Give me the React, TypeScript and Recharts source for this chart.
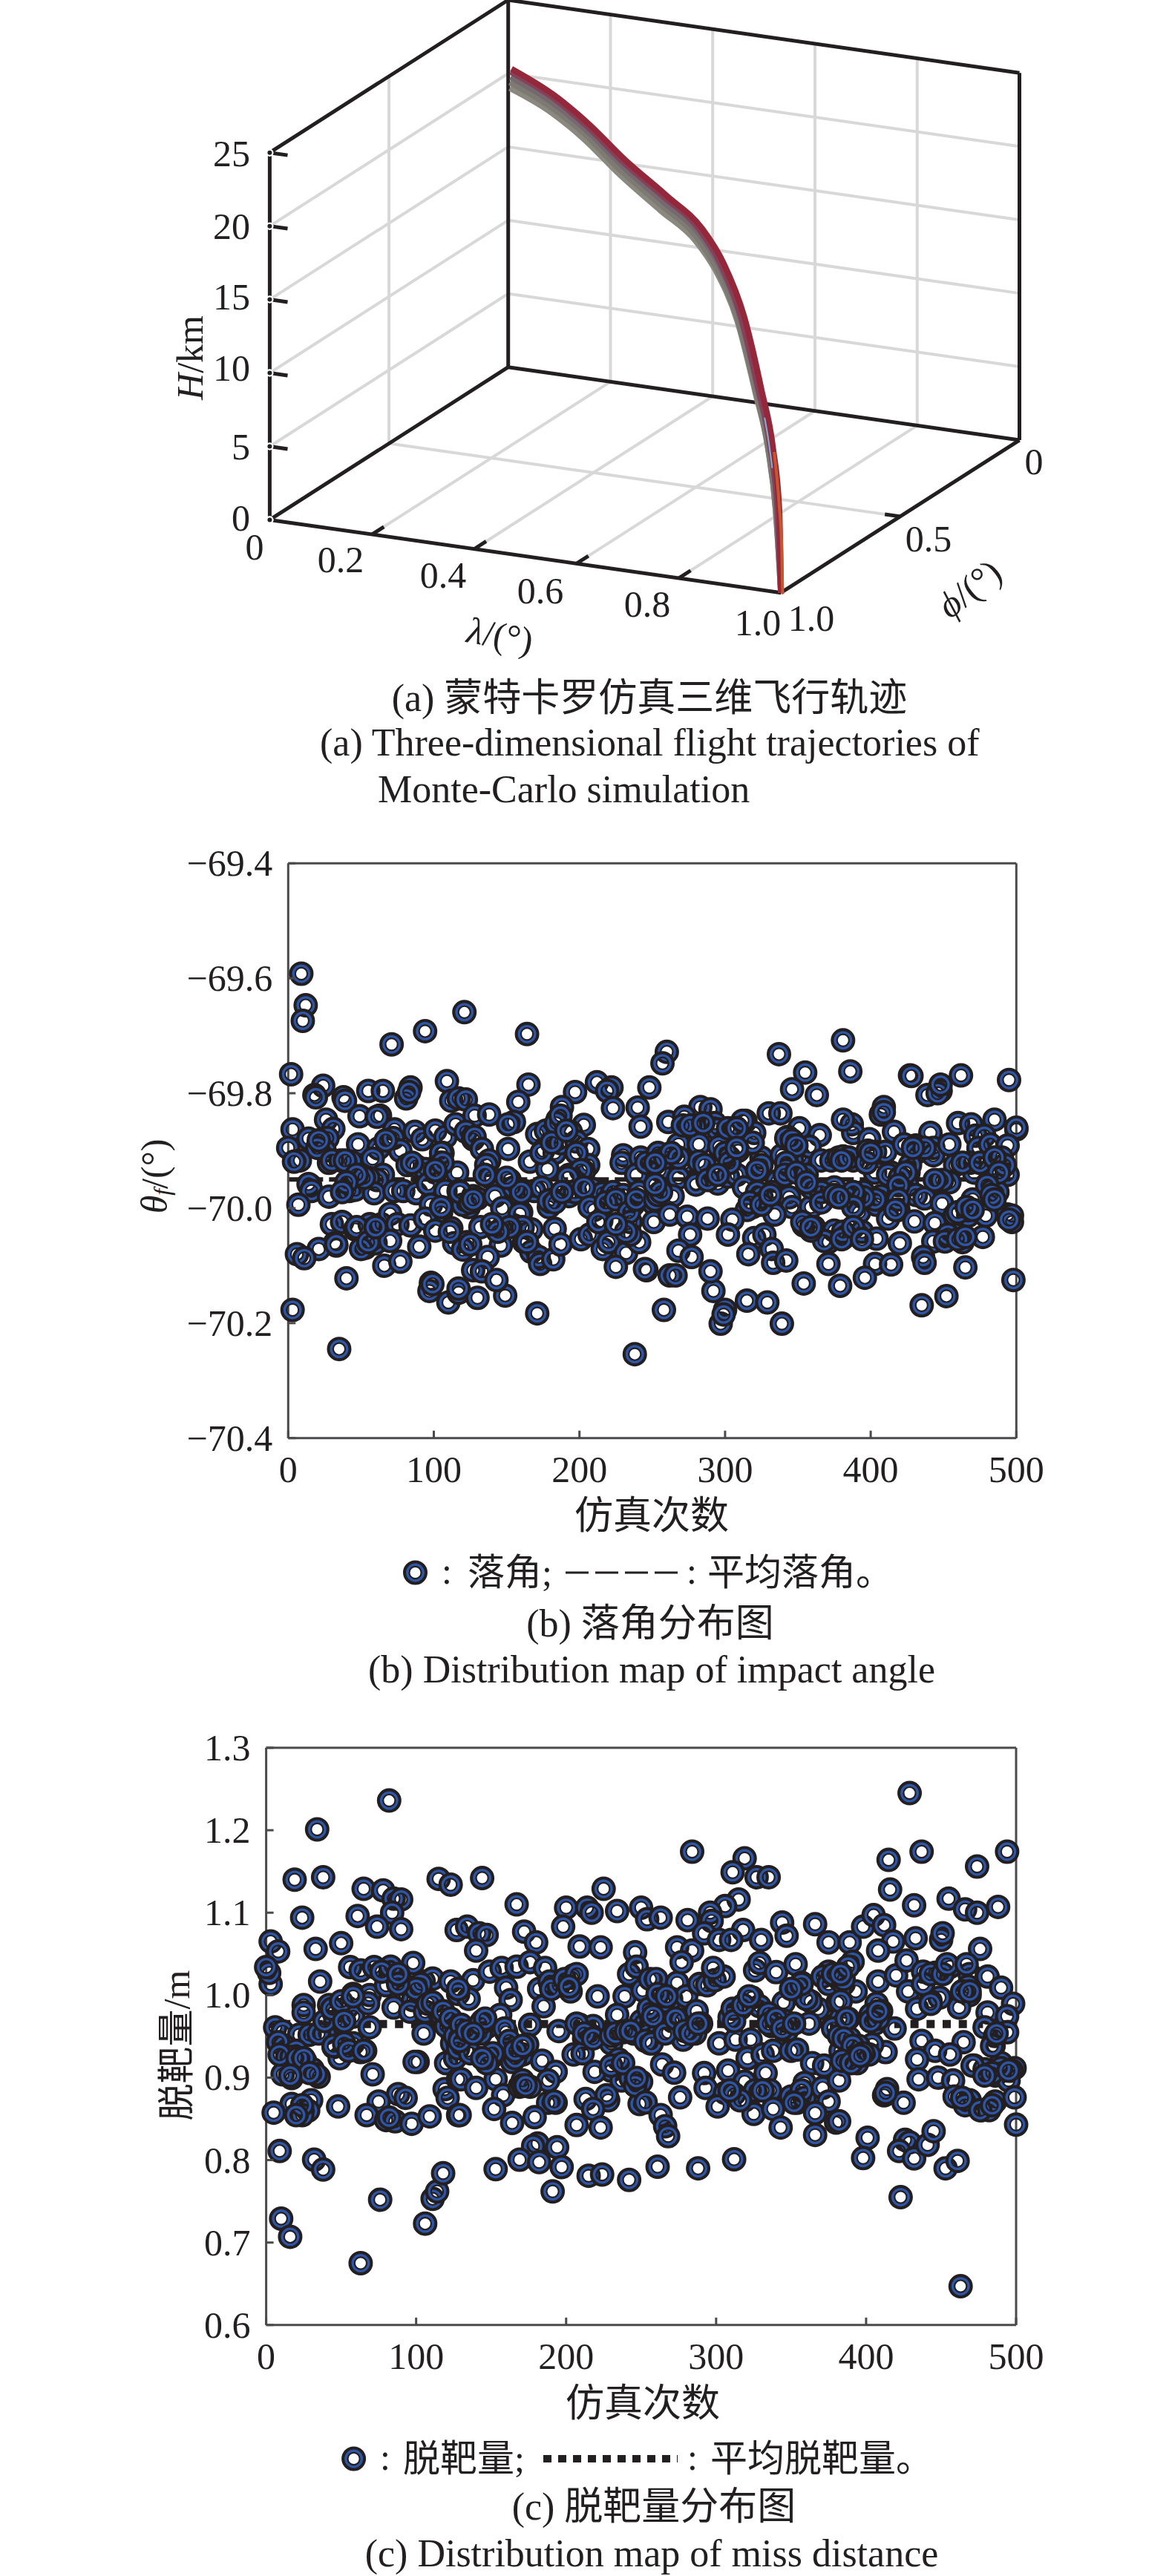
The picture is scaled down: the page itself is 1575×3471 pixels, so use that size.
import React from "react";
import { ComposedChart, Line, Scatter, XAxis, YAxis } from "recharts";

const INK = "#231f20";
const AXIS = "#4a4a4c";
const BLUE = "#2f56a6";
const GRID = "#d8d8d8";
const FONT = '"Liberation Serif", "Noto Sans CJK SC", serif';

// panel (a): axis ticks of the 3D box
const lambdaTicks = [0.2, 0.4, 0.6, 0.8];
const phiTicks = [0.5];
const heightTicks = [5, 10, 15, 20];
const heightAxisTicks = [0, 5, 10, 15, 20, 25];
const lambdaAxisTicks = [0.2, 0.4, 0.6, 0.8];

// panel (a): trajectory bundle
const trackMid = [0.009, 0.157, 0.287, 0.418, 0.57, 0.7, 0.776, 0.852, 0.917, 0.961, 0.987, 1];
const trackRight = [0.012, 0.165, 0.295, 0.428, 0.582, 0.712, 0.79, 0.866, 0.929, 0.971, 0.994, 1];
const trackLeft = [0.006, 0.148, 0.278, 0.408, 0.558, 0.688, 0.762, 0.84, 0.907, 0.953, 0.981, 1];
const heightTop = [20.5, 21.1, 21.1, 20.7, 20.6, 20.35, 19.2, 16.7, 12.7, 9.4, 5.5, 0];
const heightUpper = [20.25, 20.85, 20.85, 20.45, 20.35, 20.15, 19.05, 16.6, 12.6, 9.35, 5.45, 0];
const heightMid = [19.9, 20.5, 20.55, 20.15, 20.0, 19.85, 18.8, 16.4, 12.45, 9.25, 5.4, 0];
const heightLower = [19.5, 20.1, 20.2, 19.75, 19.65, 19.5, 18.5, 16.25, 12.35, 9.15, 5.35, 0];
const heightBottom = [19.1, 19.75, 19.8, 19.4, 19.25, 19.15, 18.25, 16.05, 12.15, 9.05, 5.3, 0];
const orangeLambda = [0.975, 0.993, 1.003, 1.006];
const orangeHeight = [9.2, 6.0, 3.0, 0];
const blueLambda = [0.94, 0.955, 0.968];
const blueHeight = [11.0, 9.6, 8.0];

// panel (b): run number, impact angle
const impactMean = -69.95;
const impactTicksY = [-70.4, -70.2, -70.0, -69.8, -69.6, -69.4];
const runTicks = [0, 100, 200, 300, 400, 500];
const impactPoints = [
  [9, -69.592], [12, -69.647], [10, -69.674], [71, -69.715], [94, -69.692], [121, -69.659], [164, -69.697], [260, -69.728], [257, -69.748], [337, -69.732], [381, -69.708],
  [3, -70.177], [35, -70.245], [98, -70.13], [97, -70.144], [110, -70.164], [117, -70.147], [130, -70.156], [149, -70.152], [171, -70.183], [238, -70.254], [258, -70.177], [315, -70.161], [329, -70.164], [339, -70.201], [297, -70.201], [300, -70.177], [299, -70.185], [292, -70.144], [354, -70.131], [379, -70.135], [435, -70.169], [452, -70.153], [498, -70.125],
  [2, -69.767], [24, -69.787], [18, -69.803], [19, -69.807], [38, -69.807], [39, -69.813], [55, -69.796], [65, -69.796], [84, -69.79], [81, -69.809], [83, -69.798], [109, -69.779], [49, -69.84], [63, -69.839], [61, -69.841], [26, -69.846], [31, -69.862], [3, -69.863], [14, -69.879], [24, -69.88], [27, -69.878], [0, -69.895], [25, -69.9], [48, -69.889], [62, -69.896], [8, -69.917], [4, -69.919], [28, -69.921], [36, -69.917], [43, -69.919], [58, -69.914], [73, -69.863], [72, -69.878], [87, -69.867], [92, -69.88], [101, -69.865], [108, -69.876], [115, -69.854], [112, -69.813], [117, -69.809], [122, -69.811], [128, -69.839], [122, -69.867], [127, -69.88], [106, -69.904], [104, -69.921], [77, -69.9], [82, -69.925], [88, -69.927], [94, -69.932], [101, -69.938], [65, -69.942], [61, -69.951], [55, -69.947], [50, -69.942], [116, -69.938], [15, -69.96], [14, -69.958], [16, -69.97], [7, -69.994], [28, -69.98], [42, -69.97], [46, -69.968], [59, -69.974], [73, -69.97], [79, -69.97], [88, -69.974], [96, -69.958], [108, -69.97], [117, -69.97], [127, -69.979], [98, -69.994], [105, -70.007], [124, -69.998], [127, -69.985],
  [30, -70.028], [37, -70.024], [46, -70.037], [56, -70.028], [64, -70.028], [70, -70.01], [75, -70.028], [84, -70.03], [94, -70.018], [101, -70.039], [112, -70.035], [114, -70.061], [123, -70.059], [120, -70.072], [32, -70.061], [33, -70.065], [21, -70.071], [6, -70.08], [11, -70.087], [53, -70.069], [53, -70.065], [60, -70.061], [70, -70.057], [90, -70.067], [66, -70.1], [77, -70.093], [40, -70.122], [99, -70.132], [117, -70.14], [127, -70.108],
  [20, -69.895], [21, -69.882], [30, -69.917], [39, -69.917], [52, -69.947], [47, -69.942], [40, -69.955], [37, -69.972], [67, -69.882], [85, -69.921], [105, -69.904], [106, -69.921], [101, -69.934], [111, -70.041], [120, -69.994], [105, -69.998], [118, -69.972], [125, -69.99], [47, -70.033], [50, -70.071], [55, -70.059], [60, -70.033], [33, -70.063],
  [165, -69.785], [158, -69.815], [138, -69.837], [155, -69.85], [151, -69.854], [171, -69.871], [197, -69.798], [188, -69.824], [185, -69.846], [212, -69.781], [222, -69.79], [219, -69.796], [223, -69.826], [248, -69.79], [240, -69.825], [242, -69.858], [203, -69.855], [151, -69.897], [128, -69.876], [133, -69.897], [138, -69.917], [136, -69.925], [166, -69.919], [177, -69.865], [184, -69.852], [175, -69.9], [183, -69.904], [187, -69.887], [178, -69.932], [194, -69.867], [198, -69.884], [206, -69.897], [206, -69.925], [203, -69.936], [193, -69.942], [230, -69.908], [229, -69.921], [242, -69.912], [247, -69.921], [254, -69.908], [255, -69.934], [239, -69.942], [152, -69.951], [139, -69.947], [135, -69.942], [130, -69.983], [127, -69.985], [142, -69.979], [147, -70.0], [159, -69.977], [162, -69.97], [169, -69.97], [174, -69.964], [182, -69.985], [179, -69.998], [193, -69.979], [197, -69.972], [208, -69.966], [216, -69.974], [223, -69.972], [230, -69.977], [237, -69.994], [241, -69.972], [255, -69.974], [251, -69.992], [210, -70.003], [215, -70.022], [235, -70.024], [251, -70.024], [132, -70.033], [146, -70.037], [160, -70.007], [155, -70.03], [167, -70.037], [183, -70.036], [146, -70.065], [125, -70.063], [162, -70.059], [167, -70.076], [172, -70.085], [173, -70.097], [182, -70.089], [187, -70.063], [201, -70.054], [207, -70.046], [216, -70.071], [220, -70.059], [232, -70.078], [241, -70.059], [235, -70.046], [225, -70.102], [246, -70.108], [137, -70.085], [133, -70.11], [143, -70.125],
  [174, -69.904], [181, -69.886], [187, -69.839], [191, -69.865], [198, -69.904], [201, -69.934], [192, -69.947], [179, -69.987], [183, -69.99], [188, -69.972], [203, -69.964], [207, -69.998], [213, -70.024], [218, -69.99], [225, -69.985], [234, -70.007], [239, -69.985], [246, -69.921], [252, -69.921], [252, -69.985], [232, -70.041], [225, -70.028], [159, -70.01], [161, -70.033], [152, -70.033], [144, -70.041], [140, -70.028], [164, -70.059], [155, -69.964], [160, -69.972], [150, -69.947],
  [355, -69.764], [346, -69.793], [363, -69.803], [386, -69.762], [261, -69.85], [283, -69.824], [290, -69.828], [272, -69.841], [293, -69.852], [279, -69.859], [295, -69.863], [314, -69.848], [307, -69.863], [320, -69.869], [330, -69.835], [338, -69.835], [351, -69.861], [365, -69.873], [343, -69.876], [268, -69.889], [282, -69.889], [254, -69.904], [259, -69.912], [272, -69.921], [282, -69.919], [286, -69.925], [296, -69.893], [303, -69.912], [309, -69.9], [325, -69.912], [325, -69.925], [339, -69.908], [346, -69.917], [351, -69.912], [358, -69.893], [366, -69.917], [373, -69.917], [378, -69.912], [382, -69.912], [268, -69.947], [280, -69.957], [295, -69.957], [302, -69.945], [308, -69.942], [313, -69.964], [336, -69.953], [342, -69.934], [356, -69.942], [375, -69.964], [363, -69.968], [383, -69.981], [254, -69.977], [264, -69.979], [319, -69.998], [325, -69.981], [332, -69.972], [344, -69.981], [346, -69.998], [359, -69.998], [354, -70.03], [361, -70.033], [334, -70.011], [315, -70.003], [262, -70.011], [274, -70.015], [288, -70.018], [305, -70.02], [302, -70.046], [276, -70.046], [320, -70.052], [327, -70.046], [268, -70.074], [277, -70.085], [316, -70.08], [332, -70.071], [333, -70.095], [342, -70.091], [371, -70.059], [375, -70.039], [368, -70.057], [359, -70.039], [371, -70.097], [381, -70.052], [262, -70.117], [266, -70.117], [290, -70.11], [245, -70.106],
  [268, -69.912], [263, -69.904], [271, -69.856], [276, -69.856], [285, -69.852], [302, -69.861], [312, -69.848], [308, -69.861], [319, -69.886], [300, -69.904], [303, -69.921], [308, -69.895], [322, -69.934], [322, -69.972], [317, -69.99], [325, -69.994], [331, -69.977], [342, -69.878], [346, -69.882], [349, -69.891], [342, -69.921], [341, -69.942], [349, -69.938], [359, -69.964], [366, -69.972], [356, -69.955], [353, -70.024], [359, -70.033], [366, -69.99], [375, -69.977], [380, -69.981], [280, -69.959], [288, -69.951], [295, -69.942], [256, -69.972], [252, -69.921], [252, -69.959],
  [427, -69.769], [428, -69.77], [462, -69.769], [495, -69.777], [439, -69.803], [448, -69.796], [446, -69.8], [448, -69.785], [409, -69.824], [407, -69.837], [409, -69.833], [416, -69.867], [441, -69.869], [460, -69.852], [469, -69.854], [485, -69.846], [500, -69.863], [500, -69.86], [387, -69.854], [388, -69.869], [381, -69.846], [399, -69.88], [403, -69.902], [410, -69.902], [423, -69.889], [431, -69.891], [431, -69.904], [443, -69.895], [443, -69.908], [454, -69.889], [472, -69.874], [478, -69.874], [474, -69.895], [482, -69.889], [494, -69.891], [490, -69.912], [381, -69.91], [388, -69.917], [403, -69.938], [414, -69.938], [426, -69.938], [427, -69.925], [458, -69.925], [468, -69.921], [471, -69.938], [482, -69.934], [494, -69.942], [492, -69.925], [448, -69.955], [454, -69.955], [425, -69.96], [395, -69.972], [407, -69.979], [383, -69.981], [419, -69.977], [431, -69.977], [437, -69.983], [449, -69.992], [483, -69.97], [486, -69.975], [487, -69.972], [470, -69.985], [392, -70.007], [404, -69.994], [419, -70.003], [412, -70.018], [430, -70.023], [444, -70.026], [458, -70.011], [467, -70.013], [479, -70.013], [494, -70.011], [497, -70.013], [497, -70.024], [394, -70.041], [383, -70.048], [404, -70.053], [420, -70.061], [443, -70.058], [454, -70.052], [463, -70.059], [458, -70.046], [477, -70.05], [436, -70.085], [437, -70.095], [403, -70.097], [414, -70.098], [396, -70.121], [465, -70.103],
  [385, -69.912], [380, -69.917], [398, -69.9], [397, -69.921], [400, -69.904], [412, -69.942], [420, -69.947], [424, -69.938], [419, -69.96], [419, -69.985], [417, -70.003], [403, -69.985], [395, -69.981], [388, -69.972], [388, -69.998], [378, -69.981], [381, -70.041], [380, -70.054], [388, -70.033], [394, -70.054], [449, -69.951], [444, -69.951], [437, -69.895], [429, -69.895], [463, -69.921], [475, -69.921], [485, -69.912], [488, -69.938], [480, -69.96], [483, -69.977], [485, -69.985], [460, -70.007], [466, -69.998], [453, -70.046], [451, -70.058], [460, -70.054], [465, -70.05], [470, -70.003], [495, -70.02],
];

// panel (c): run number, miss distance
const missMean = 0.965;
const missTicksY = [0.6, 0.7, 0.8, 0.9, 1.0, 1.1, 1.2, 1.3];
const missPoints = [
  [34, 1.201], [82, 1.236], [19, 1.14], [38, 1.143], [24, 1.094], [65, 1.129], [61, 1.096], [78, 1.127], [85, 1.117], [90, 1.116], [84, 1.1], [74, 1.083], [90, 1.08], [33, 1.056], [3, 1.065], [8, 1.053], [50, 1.063], [115, 1.141], [123, 1.134], [144, 1.142], [167, 1.11], [200, 1.106], [198, 1.083], [172, 1.077], [180, 1.064], [127, 1.079], [134, 1.083], [142, 1.075], [147, 1.073], [140, 1.054], [209, 1.059], [225, 1.129], [214, 1.106], [217, 1.1], [234, 1.102], [223, 1.058], [250, 1.106], [254, 1.092], [263, 1.094], [246, 1.052], [284, 1.174], [281, 1.091], [274, 1.058], [284, 1.054], [319, 1.166], [311, 1.149], [327, 1.143], [335, 1.143], [315, 1.116], [306, 1.108], [296, 1.1], [297, 1.09], [292, 1.075], [318, 1.079], [302, 1.067], [310, 1.067], [330, 1.067], [344, 1.088], [347, 1.072], [366, 1.086], [375, 1.064], [389, 1.064], [398, 1.083], [405, 1.097], [412, 1.085], [415, 1.164], [416, 1.128], [429, 1.245], [437, 1.174], [432, 1.109], [433, 1.069], [418, 1.065], [455, 1.117], [466, 1.104], [474, 1.1], [474, 1.156], [488, 1.107], [494, 1.174], [450, 1.067], [451, 1.075], [476, 1.056], [408, 1.054],
  [10, 0.729], [16, 0.707], [63, 0.675], [76, 0.752], [106, 0.723], [111, 0.753], [114, 0.762], [463, 0.647], [423, 0.755], [191, 0.762], [242, 0.776],
  [3, 1.0135], [2, 1.027], [0, 1.034], [36, 1.0165], [25, 0.988], [25, 0.979], [56, 1.034], [63, 1.03], [72, 1.034], [83, 1.028], [98, 1.039], [42, 0.988], [45, 0.979], [46, 0.967], [54, 0.985], [58, 1.0015], [58, 0.974], [69, 1.0], [68, 0.99], [80, 1.012], [91, 1.014], [93, 1.0], [85, 0.985], [105, 1.0165], [111, 1.02], [123, 1.0165], [128, 1.0015], [98, 0.994], [96, 0.98], [106, 0.98], [115, 0.98], [117, 0.976], [69, 0.961], [6, 0.961], [11, 0.956], [22, 0.952], [29, 0.952], [39, 0.9535], [12, 0.9385], [8, 0.943], [20, 0.9325], [14, 0.925], [26, 0.92], [31, 0.91], [35, 0.901], [33, 0.904], [11, 0.904], [17, 0.8995], [45, 0.937], [49, 0.9235], [58, 0.9415], [63, 0.931], [66, 0.9325], [71, 0.904], [105, 0.9535], [101, 0.919], [99, 0.919], [120, 0.9175], [126, 0.964], [124, 0.9535], [126, 0.9235], [120, 0.9625], [119, 0.886], [121, 0.8755], [128, 0.898], [88, 0.88], [93, 0.8755], [75, 0.871], [17, 0.868], [30, 0.8725], [28, 0.86], [24, 0.8545], [5, 0.8575], [48, 0.865], [67, 0.8545], [80, 0.8485], [86, 0.847], [97, 0.844], [109, 0.853], [128, 0.8545], [9, 0.811], [32, 0.8005], [38, 0.7885], [118, 0.784],
  [17, 0.925], [9, 0.928], [21, 0.9235], [25, 0.9235], [29, 0.9055], [16, 0.9025], [35, 0.9535], [39, 0.9685], [44, 0.9835], [50, 0.9925], [52, 0.9685], [58, 0.9985], [45, 0.9385], [52, 0.9415], [55, 0.9325], [65, 0.9325], [103, 1.0135], [100, 1.0075], [108, 0.9895], [111, 0.991], [118, 0.9805], [123, 0.9715], [124, 0.9415], [126, 0.9505], [24, 0.8665], [20, 0.8545], [82, 0.8515], [83, 1.0345], [77, 1.0285], [88, 1.0135], [88, 1.0255],
  [138, 1.018], [135, 0.9955], [128, 1.0075], [149, 1.0285], [157, 1.033], [167, 1.0345], [176, 1.04], [186, 1.033], [160, 1.009], [163, 0.994], [182, 1.0075], [189, 1.0165], [195, 1.012], [203, 1.0045], [204, 1.021], [205, 1.024], [185, 0.9865], [221, 0.9985], [242, 1.0255], [247, 1.0345], [239, 0.9985], [251, 1.006], [256, 1.0195], [234, 0.976], [156, 0.976], [144, 0.9685], [147, 0.961], [143, 0.9535], [130, 0.964], [160, 0.955], [176, 0.964], [195, 0.9565], [209, 0.964], [218, 0.9625], [212, 0.9475], [217, 0.9505], [230, 0.9415], [238, 0.955], [245, 0.9535], [253, 0.9655], [256, 0.9415], [134, 0.9325], [128, 0.9355], [136, 0.9295], [149, 0.922], [148, 0.925], [164, 0.919], [171, 0.928], [174, 0.94], [166, 0.9235], [184, 0.9205], [193, 0.907], [188, 0.8965], [205, 0.928], [211, 0.9295], [235, 0.922], [230, 0.9085], [219, 0.907], [237, 0.8965], [250, 0.895], [243, 0.8995], [130, 0.898], [140, 0.8875], [153, 0.898], [158, 0.8785], [169, 0.889], [176, 0.889], [188, 0.8695], [193, 0.8695], [213, 0.874], [228, 0.8725], [227, 0.8785], [249, 0.868], [218, 0.862], [152, 0.862], [129, 0.8545], [164, 0.845], [179, 0.852], [207, 0.8425], [223, 0.8395], [181, 0.82], [178, 0.817], [194, 0.8155], [169, 0.8005], [182, 0.7975], [197, 0.7915], [153, 0.789], [215, 0.781], [224, 0.7825], [261, 0.792],
  [129, 0.9445], [134, 0.9565], [143, 0.9655], [146, 0.9715], [138, 0.9535], [159, 0.9595], [162, 0.9445], [151, 0.9295], [147, 0.9175], [144, 0.9235], [166, 0.9325], [171, 0.9385], [190, 1.0075], [199, 1.0195], [207, 1.0255], [202, 1.0105], [207, 0.9655], [212, 0.9535], [218, 0.9475], [230, 0.9505], [233, 0.9535], [240, 0.9565], [250, 0.9685], [243, 0.9565], [253, 0.9445], [230, 0.9145], [238, 0.9175], [246, 0.8905], [247, 0.8995], [171, 0.8965], [192, 0.871], [171, 0.8905], [173, 0.8905],
  [260, 1.0195], [274, 1.015], [270, 0.9955], [280, 0.9985], [265, 0.9925], [289, 1.0135], [294, 1.012], [299, 1.018], [305, 1.0225], [298, 1.033], [277, 1.04], [326, 1.03], [329, 1.039], [340, 1.028], [353, 1.0375], [357, 1.015], [354, 1.009], [345, 0.991], [324, 0.997], [329, 0.9865], [316, 0.9835], [335, 0.9775], [368, 0.9835], [363, 0.9925], [381, 0.991], [375, 1.0285], [371, 1.0225], [382, 1.0195], [256, 0.9775], [271, 0.9685], [277, 0.97], [287, 0.9805], [290, 0.9655], [309, 0.973], [346, 0.9685], [337, 0.9625], [362, 0.9655], [347, 0.9565], [378, 0.9625], [385, 0.9655], [268, 0.955], [278, 0.946], [286, 0.9535], [257, 0.9415], [302, 0.9415], [313, 0.946], [323, 0.946], [321, 0.9235], [331, 0.928], [338, 0.9325], [350, 0.9325], [354, 0.934], [364, 0.9175], [372, 0.9145], [383, 0.9325], [385, 0.916], [264, 0.916], [272, 0.906], [292, 0.9055], [308, 0.9085], [333, 0.9055], [293, 0.8875], [319, 0.895], [306, 0.8815], [301, 0.865], [312, 0.88], [319, 0.8725], [326, 0.883], [336, 0.8845], [325, 0.856], [338, 0.862], [350, 0.877], [354, 0.8695], [359, 0.8935], [359, 0.8755], [371, 0.8875], [375, 0.871], [366, 0.857], [380, 0.8455], [343, 0.8395], [366, 0.8305], [276, 0.876], [253, 0.87], [263, 0.8545], [266, 0.841], [268, 0.829], [288, 0.79], [312, 0.801],
  [255, 0.9835], [258, 0.9745], [266, 0.9535], [273, 0.9715], [279, 0.9565], [283, 0.9535], [288, 0.9655], [261, 1.0015], [267, 0.9985], [311, 0.9835], [312, 0.9685], [318, 0.988], [322, 0.9985], [335, 0.9655], [340, 0.9715], [344, 0.9595], [352, 0.9655], [360, 0.9955], [357, 1.0135], [350, 1.0075], [375, 1.0135], [378, 1.0255], [385, 1.0135], [383, 0.9715], [378, 0.9595], [382, 0.9505], [326, 0.8845], [331, 0.8845], [357, 0.8845], [352, 0.8695], [316, 0.8725], [309, 0.8845],
  [391, 1.0405], [393, 1.0045], [385, 1.0195], [383, 0.9925], [408, 1.0165], [420, 1.024], [428, 1.0045], [427, 1.042], [438, 1.0285], [446, 1.027], [456, 1.0345], [469, 1.0255], [481, 1.0225], [468, 1.0105], [469, 1.0], [490, 1.009], [462, 0.985], [449, 0.997], [443, 0.9925], [434, 0.9835], [481, 0.979], [498, 0.9895], [494, 0.9745], [407, 0.9895], [410, 0.9805], [403, 0.976], [388, 0.9715], [406, 0.9655], [419, 0.9595], [479, 0.961], [494, 0.955], [486, 0.9505], [437, 0.9445], [465, 0.943], [485, 0.9385], [446, 0.9325], [456, 0.928], [434, 0.922], [413, 0.931], [404, 0.94], [389, 0.9475], [395, 0.9385], [387, 0.9175], [394, 0.9175], [402, 0.928], [472, 0.9145], [479, 0.91], [486, 0.9025], [490, 0.9175], [499, 0.9115], [497, 0.9085], [495, 0.8965], [435, 0.898], [448, 0.9], [458, 0.8965], [414, 0.886], [412, 0.8785], [425, 0.8695], [382, 0.8965], [459, 0.877], [469, 0.8725], [466, 0.8665], [477, 0.8605], [482, 0.8605], [486, 0.871], [499, 0.876], [500, 0.843], [401, 0.827], [398, 0.8025], [382, 0.847], [426, 0.8245], [429, 0.8215], [422, 0.811], [432, 0.802], [441, 0.8185], [445, 0.835], [453, 0.79], [461, 0.799],
  [388, 1.0345], [383, 1.0255], [438, 1.0135], [443, 1.0255], [451, 1.0255], [454, 1.0375], [467, 1.0375], [464, 1.0045], [469, 1.0045], [443, 0.9895], [387, 0.9715], [385, 0.9475], [391, 0.9385], [384, 0.9205], [390, 0.9175], [398, 0.9295], [396, 0.9265], [484, 0.9385], [490, 0.9115], [487, 0.9535], [471, 0.9145], [484, 0.9055], [479, 0.9025], [495, 0.9085], [476, 0.8605], [484, 0.8665], [464, 0.8755], [413, 0.8815], [408, 0.9715], [403, 0.9685], [408, 0.9805],
];

const toXY = (pts: number[][]) => pts.map(([x, y]) => ({ x, y }));

// (lambda, phi, H) to position in the panel (a) plot
function project(lambda: number, phi: number, h: number) {
  return {
    x: 684.7 + lambda * 688.8 - phi * 321.3,
    y: 494.7 + lambda * 98.3 + phi * 205.7 - h * 19.79,
  };
}

function seg(a: number[], b: number[]) {
  return [project(a[0], a[1], a[2]), project(b[0], b[1], b[2])];
}

const gridSegments = [
  ...lambdaTicks.map((l) => seg([l, 0, 0], [l, 0, 25])),
  ...lambdaTicks.map((l) => seg([l, 0, 0], [l, 1, 0])),
  ...phiTicks.map((p) => seg([0, p, 0], [0, p, 25])),
  ...phiTicks.map((p) => seg([0, p, 0], [1, p, 0])),
  ...heightTicks.map((h) => seg([0, 0, h], [1, 0, h])),
  ...heightTicks.map((h) => seg([0, 0, h], [0, 1, h])),
];

const frameSegments = [
  seg([0, 1, 0], [0, 1, 25]),
  seg([0, 1, 25], [0, 0, 25]),
  seg([0, 0, 25], [1, 0, 25]),
  seg([1, 0, 25], [1, 0, 0]),
  seg([0, 0, 0], [0, 0, 25]),
  seg([0, 1, 0], [1, 1, 0]),
  seg([1, 1, 0], [1, 0, 0]),
  seg([1, 0, 0], [0, 0, 0]),
  seg([0, 0, 0], [0, 1, 0]),
  ...heightAxisTicks.slice(1).map((h) => seg([0, 1, h], [0.035, 1, h])),
  ...lambdaAxisTicks.map((l) => seg([l, 1, 0], [l, 0.95, 0])),
  ...phiTicks.map((p) => seg([1, p, 0], [0.97, p, 0])),
];

const track = (ls: number[], hs: number[]) => ls.map((l, i) => project(l, l, hs[i]));

const trackSeries = [
  { pts: track(trackLeft, heightBottom), color: "#8b8880" },
  { pts: track(trackLeft, heightLower), color: "#7d7a74" },
  { pts: track(trackMid, heightMid), color: "#76686f" },
  { pts: track(trackMid, heightUpper), color: "#85405a" },
  { pts: track(trackRight, heightTop), color: "#94283a" },
];

function Ring({ cx, cy }: any) {
  return (
    <g fill="none">
      <circle cx={cx} cy={cy} r={11.75} stroke={INK} strokeWidth={9.5} />
      <circle cx={cx} cy={cy} r={10.8} stroke={BLUE} strokeWidth={3.2} />
    </g>
  );
}

function Txt({ x, y, size = 50, anchor = "middle", rotate = 0, children }: any) {
  return (
    <text
      x={x}
      y={y}
      fontSize={size}
      fontFamily={FONT}
      fill={INK}
      textAnchor={anchor}
      dominantBaseline="central"
      transform={rotate ? `rotate(${rotate} ${x} ${y})` : undefined}
    >
      {children}
    </text>
  );
}

const fmtX = (v: number) => String(v);
const fmtY = (v: number) => v.toFixed(1).replace("-", "\u2212");

function LeftTick({ x, y, payload }: any) {
  return (
    <g>
      <line x1={x} x2={x + 10} y1={y} y2={y} stroke={AXIS} strokeWidth={3} />
      <text x={x - 21} y={y} fontSize={50} fontFamily={FONT} fill={INK} textAnchor="end" dominantBaseline="central">
        {fmtY(payload.value)}
      </text>
    </g>
  );
}

function BottomTick({ x, y, payload }: any) {
  return (
    <g>
      <line x1={x} x2={x} y1={y} y2={y - 10} stroke={AXIS} strokeWidth={3} />
      <text x={x} y={y + 42} fontSize={50} fontFamily={FONT} fill={INK} textAnchor="middle" dominantBaseline="central">
        {fmtX(payload.value)}
      </text>
    </g>
  );
}

const TopTick = ({ x, y }: any) => <line x1={x} x2={x} y1={y} y2={y + 10} stroke={AXIS} strokeWidth={3} />;
const RightTick = ({ x, y }: any) => <line x1={x} x2={x - 10} y1={y} y2={y} stroke={AXIS} strokeWidth={3} />;

function ScatterPanel({ top, height, margin, points, mean, yTicks, yDomain, lineProps }: any) {
  const axisLine = { stroke: AXIS, strokeWidth: 3 };
  const meanLine = [
    { x: 0, y: mean },
    { x: 500, y: mean },
  ];
  return (
    <div style={{ position: "absolute", left: 0, top }}>
      <ComposedChart width={1575} height={height} margin={margin}>
        <XAxis dataKey="x" type="number" domain={[0, 500]} ticks={runTicks} height={1} tickSize={0} tickMargin={0} tickLine={false} axisLine={axisLine} tick={<BottomTick />} interval={0} />
        <XAxis xAxisId="top" orientation="top" dataKey="x" type="number" domain={[0, 500]} ticks={runTicks} height={1} tickSize={0} tickMargin={0} tickLine={false} axisLine={axisLine} tick={<TopTick />} interval={0} />
        <YAxis dataKey="y" type="number" domain={yDomain} ticks={yTicks} width={1} tickSize={0} tickMargin={0} tickLine={false} axisLine={axisLine} tick={<LeftTick />} interval={0} />
        <YAxis yAxisId="right" orientation="right" dataKey="y" type="number" domain={yDomain} ticks={yTicks} width={1} tickSize={0} tickMargin={0} tickLine={false} axisLine={axisLine} tick={<RightTick />} interval={0} />
        <Line data={meanLine} dataKey="y" dot={false} legendType="none" isAnimationActive={false} stroke={INK} {...lineProps} />
        <Scatter data={toXY(points)} dataKey="y" shape={<Ring />} isAnimationActive={false} />
      </ComposedChart>
    </div>
  );
}

function Trajectory3D() {
  return (
    <div style={{ position: "absolute", left: 0, top: 0 }}>
      <ComposedChart width={1575} height={1000} margin={{ top: 0, right: 0, bottom: 0, left: 0 }}>
        <XAxis dataKey="x" type="number" domain={[0, 1575]} hide />
        <YAxis dataKey="y" type="number" domain={[0, 1000]} reversed hide />
        {gridSegments.map((d, i) => (
          <Line key={`g${i}`} data={d} dataKey="y" dot={false} stroke={GRID} strokeWidth={4} isAnimationActive={false} />
        ))}
        {frameSegments.map((d, i) => (
          <Line key={`f${i}`} data={d} dataKey="y" dot={false} stroke={INK} strokeWidth={5} isAnimationActive={false} />
        ))}
        {trackSeries.map((s, i) => (
          <Line key={`t${i}`} data={s.pts} dataKey="y" type="monotone" dot={false} stroke={s.color} strokeWidth={8} isAnimationActive={false} />
        ))}
        <Line data={track(orangeLambda, orangeHeight)} dataKey="y" type="monotone" dot={false} stroke="#c8552b" strokeWidth={4} isAnimationActive={false} />
        <Line data={track(blueLambda, blueHeight)} dataKey="y" type="monotone" dot={false} stroke="#7fb0d8" strokeWidth={2} isAnimationActive={false} />
      </ComposedChart>
    </div>
  );
}

function Labels() {
  return (
    <svg width={1575} height={3471} style={{ position: "absolute", left: 0, top: 0, pointerEvents: "none" }}>
      {/* panel (a) */}
      <Txt x={337} y={207} anchor="end">25</Txt>
      <Txt x={337} y={305} anchor="end">20</Txt>
      <Txt x={337} y={400} anchor="end">15</Txt>
      <Txt x={337} y={496} anchor="end">10</Txt>
      <Txt x={337} y={602} anchor="end">5</Txt>
      <Txt x={337} y={698} anchor="end">0</Txt>
      <Txt x={343} y={737}>0</Txt>
      <Txt x={459} y={754}>0.2</Txt>
      <Txt x={597} y={775}>0.4</Txt>
      <Txt x={728} y={796}>0.6</Txt>
      <Txt x={872} y={814}>0.8</Txt>
      <Txt x={1021} y={839}>1.0</Txt>
      <Txt x={1093} y={833}>1.0</Txt>
      <Txt x={1251} y={726}>0.5</Txt>
      <Txt x={1393} y={622}>0</Txt>
      <Txt x={256} y={482} rotate={-90}>
        <tspan fontStyle="italic">H</tspan>/km
      </Txt>
      <Txt x={674} y={856} rotate={10}>
        <tspan fontStyle="italic">λ</tspan>/(°)
      </Txt>
      <Txt x={1306} y={793} rotate={-38}>
        <tspan fontStyle="italic">ϕ</tspan>/(°)
      </Txt>
      <Txt x={875} y={940} size={52}>(a) 蒙特卡罗仿真三维飞行轨迹</Txt>
      <Txt x={431} y={1000} anchor="start" size={52}>(a) Three-dimensional flight trajectories of</Txt>
      <Txt x={509} y={1063} anchor="start" size={52}>Monte-Carlo simulation</Txt>

      {/* panel (b) */}
      <Txt x={208} y={1585} rotate={-90}>
        <tspan fontStyle="italic">θ</tspan>
        <tspan fontStyle="italic" fontSize={32} dy={10}>f</tspan>
        <tspan dy={-10}>/(°)</tspan>
      </Txt>
      <Txt x={878} y={2042} size={52}>仿真次数</Txt>
      <Ring cx={559.5} cy={2119} />
      <Txt x={602} y={2117}>:</Txt>
      <Txt x={630} y={2119} anchor="start" size={50}>落角;</Txt>
      <line x1={762} x2={913} y1={2119} y2={2119} stroke={INK} strokeWidth={3} strokeDasharray="31 9" />
      <Txt x={932} y={2117}>:</Txt>
      <Txt x={953} y={2119} anchor="start" size={50}>平均落角。</Txt>
      <Txt x={876} y={2187} size={52}>(b) 落角分布图</Txt>
      <Txt x={878} y={2249} size={52}>(b) Distribution map of impact angle</Txt>

      {/* panel (c) */}
      <Txt x={238} y={2756} size={50} rotate={-90}>脱靶量/m</Txt>
      <Txt x={866} y={3238} size={52}>仿真次数</Txt>
      <Ring cx={476.6} cy={3313} />
      <Txt x={519} y={3311}>:</Txt>
      <Txt x={543} y={3313} anchor="start" size={50}>脱靶量;</Txt>
      <line x1={732} x2={913} y1={3313} y2={3313} stroke={INK} strokeWidth={10} strokeDasharray="11 9" />
      <Txt x={933} y={3311}>:</Txt>
      <Txt x={957} y={3313} anchor="start" size={50}>平均脱靶量。</Txt>
      <Txt x={881} y={3377} size={52}>(c) 脱靶量分布图</Txt>
      <Txt x={878} y={3440} size={52}>(c) Distribution map of miss distance</Txt>
    </svg>
  );
}

export default function App() {
  return (
    <div style={{ position: "absolute", left: 0, top: 0, width: 1575, height: 3471, background: "#fff" }}>
      <Trajectory3D />
      <ScatterPanel
        top={1100}
        height={960}
        margin={{ top: 62.3, right: 204.7, bottom: 121.3, left: 387.3 }}
        points={impactPoints}
        mean={impactMean}
        yTicks={impactTicksY}
        yDomain={[-70.4, -69.4]}
        lineProps={{ strokeWidth: 6, strokeDasharray: "47 8" }}
      />
      <ScatterPanel
        top={2300}
        height={960}
        margin={{ top: 54, right: 205, bottom: 126.2, left: 357.6 }}
        points={missPoints}
        mean={missMean}
        yTicks={missTicksY}
        yDomain={[0.6, 1.3]}
        lineProps={{ strokeWidth: 11, strokeDasharray: "11 10.7" }}
      />
      <Labels />
    </div>
  );
}
